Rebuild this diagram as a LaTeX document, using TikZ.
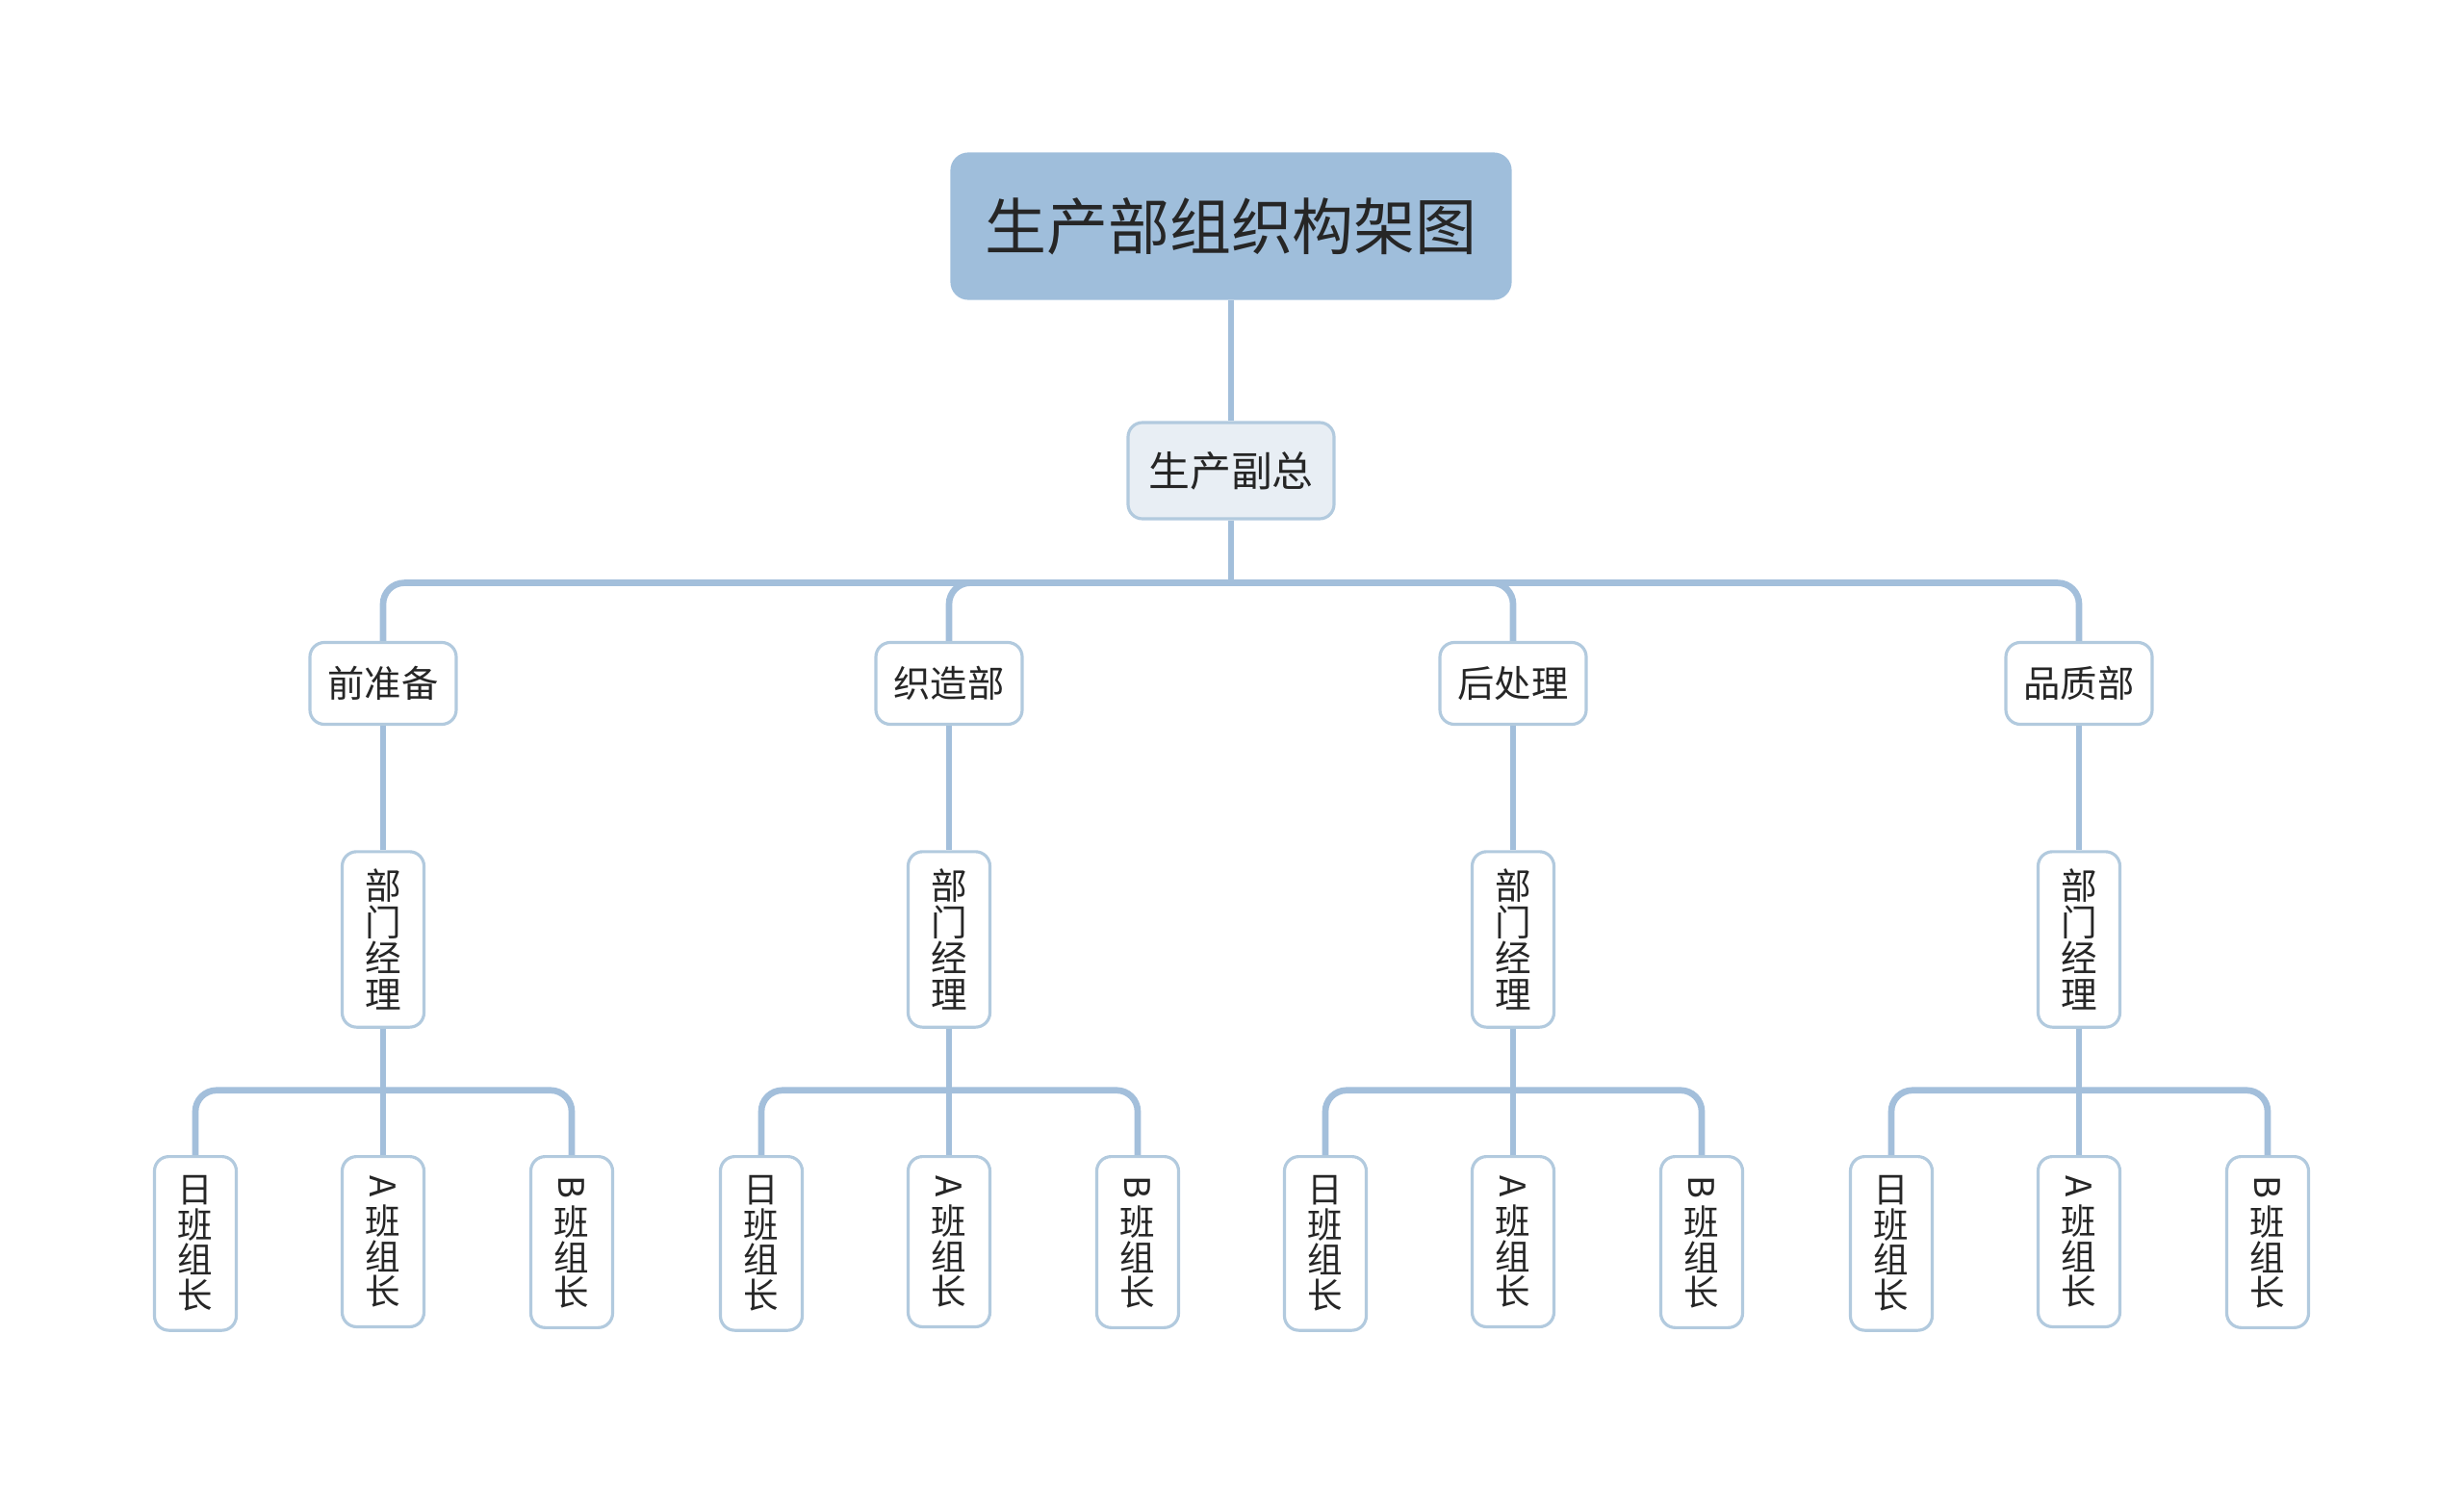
\documentclass[tikz,border=0pt]{standalone}
\usepackage{fontspec}
\setmainfont{Noto Sans CJK SC}
\usetikzlibrary{positioning}

\definecolor{rootblue}{RGB}{159,190,219}
\definecolor{linkblue}{RGB}{163,191,219}
\definecolor{boxline}{RGB}{178,202,222}
\definecolor{vpfill}{RGB}{232,238,244}
\definecolor{inkgray}{RGB}{38,38,38}

\tikzset{
  box/.style={draw=boxline, line width=0.9pt, rounded corners=0.15cm, fill=white,
    text=inkgray, inner sep=0pt},
  rootbox/.style={box, draw=rootblue, fill=rootblue, rounded corners=0.17cm,
    minimum width=5.8cm, minimum height=1.5cm, font=\fontsize{18.2pt}{18.2pt}\selectfont},
  vicebox/.style={box, fill=vpfill, minimum width=2.14cm, minimum height=1.0cm,
    font=\fontsize{12.2pt}{12.2pt}\selectfont},
  deptbox/.style={box, minimum width=1.52cm, minimum height=0.85cm,
    font=\fontsize{10.9pt}{10.9pt}\selectfont},
  tallbox/.style={box, minimum width=0.85cm, align=center, inner ysep=0.18cm},
  mgrbox/.style={tallbox, font=\fontsize{10.7pt}{10.7pt}\selectfont},
  leadbox/.style={tallbox, anchor=north, inner ysep=0.2cm, font=\fontsize{10.4pt}{10.4pt}\selectfont},
  link/.style={draw=linkblue, line width=1.9pt, rounded corners=0.22cm}
}
\newcommand{\sidechar}[1]{\rotatebox[origin=c]{-90}{#1}}

\begin{document}
\begin{tikzpicture}
    % canvas, 1cm = 100px of the picture
    \path[use as bounding box] (0,0) rectangle (25.6,-15.47);

    % ================= Top levels =================
    \node[rootbox] (top) at (12.79,-2.35) {生产部组织构架图};
    \node[vicebox] (vp) at (12.79,-4.89) {生产副总};

    \draw[link] (top) -- (vp);
    \path (vp.south) ++(0,-0.65) coordinate (bus);
    \draw[link] (vp.south) -- (bus);

    % ================= Departments =================
    \foreach \i/\x/\dname in {1/3.98/前准备, 2/9.86/织造部, 3/15.72/后处理, 4/21.60/品质部} {
        \node[deptbox] (d\i) at (\x,-7.10) {\dname};
        \node[mgrbox] (m\i) at (\x,-9.76) {部\\门\\经\\理};

        % team leaders
        \node[leadbox] (a\i) at (\x-1.95,-12.00) {日\\班\\组\\长};
        \node[leadbox] (b\i) at (\x,-12.00) {\sidechar{A}\\班\\组\\长};
        \node[leadbox] (c\i) at (\x+1.96,-12.00) {\sidechar{B}\\班\\组\\长};

        \draw[link] (bus) -| (d\i.north);
        \draw[link] (d\i) -- (m\i);
        \path (m\i.south) ++(0,-0.64) coordinate (s\i);
        \draw[link] (m\i.south) -- (b\i.north);
        \draw[link] (s\i) -| (a\i.north);
        \draw[link] (s\i) -| (c\i.north);
    }
\end{tikzpicture}
\end{document}
